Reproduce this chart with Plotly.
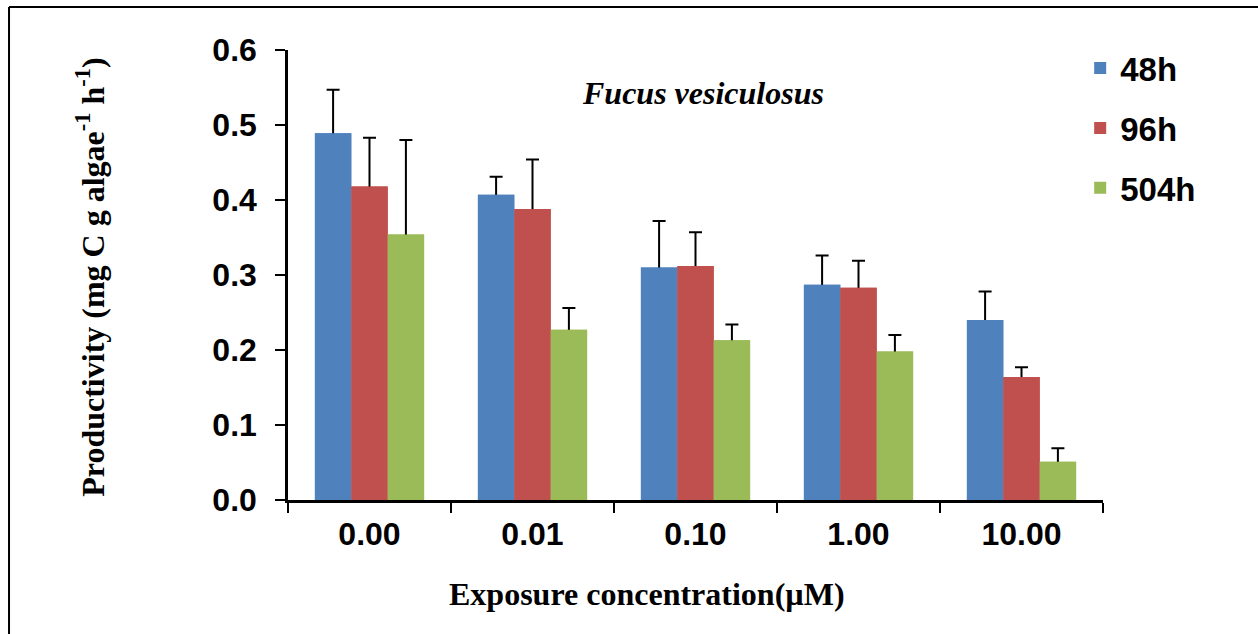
import plotly.graph_objects as go

categories = ['0.00', '0.01', '0.10', '1.00', '10.00']
series_names = ['48h', '96h', '504h']
v48 = [0.489, 0.407, 0.310, 0.287, 0.240]
e48 = [0.058, 0.024, 0.062, 0.039, 0.038]
v96 = [0.418, 0.388, 0.312, 0.283, 0.164]
e96 = [0.065, 0.066, 0.045, 0.036, 0.013]
v504 = [0.354, 0.227, 0.213, 0.198, 0.051]
e504 = [0.126, 0.029, 0.021, 0.022, 0.018]
colors = ['#4F81BD', '#C0504D', '#9BBB59']

values = [v48, v96, v504]
errors = [e48, e96, e504]

fig = go.Figure()
# bars with symmetric error bars (lower half hidden by overlay bars)
for i, (name, v, e, c) in enumerate(zip(series_names, values, errors, colors)):
    fig.add_trace(go.Bar(
        x=categories, y=v, name=name, marker=dict(color=c, line=dict(width=0)),
        offsetgroup=str(i), legendgroup=name, showlegend=True,
        error_y=dict(type='data', array=e, symmetric=True, color='black',
                     thickness=2, width=6.5),
    ))
# overlay bars hiding the lower half of the error bars
for i, (name, v, c) in enumerate(zip(series_names, values, colors)):
    fig.add_trace(go.Bar(
        x=categories, y=v, name=name, marker=dict(color=c, line=dict(width=0)),
        offsetgroup=str(i), legendgroup=name, showlegend=False, hoverinfo='skip',
    ))

sans = 'Arial, Liberation Sans'
serif = 'Times New Roman, Liberation Serif'

fig.update_layout(
    width=1258, height=634,
    margin=dict(l=288, r=155, t=50, b=134, autoexpand=False),
    paper_bgcolor='white', plot_bgcolor='white',
    barmode='group', bargap=0.33, bargroupgap=0,
    showlegend=True,
    legend=dict(x=0.972, y=1.022, xanchor='left', yanchor='top',
                font=dict(family=sans, size=33, color='black', weight='bold'),
                traceorder='grouped', tracegroupgap=14, bgcolor='rgba(0,0,0,0)'),
    xaxis=dict(
        type='category', showline=True, linecolor='black', linewidth=2.5,
        ticks='outside', tickson='boundaries', ticklen=10, tickwidth=2, tickcolor='black',
        tickfont=dict(family=sans, size=32, color='black', weight='bold'),
        ticklabelstandoff=4,
        showgrid=False, zeroline=False,
    ),
    yaxis=dict(
        range=[0, 0.6], dtick=0.1, tickformat='.1f',
        showline=True, linecolor='black', linewidth=2.5,
        ticks='outside', ticklen=10, tickwidth=2, tickcolor='black',
        tickfont=dict(family=sans, size=32, color='black', weight='bold'),
        ticklabelstandoff=12,
        showgrid=False, zeroline=False,
    ),
    annotations=[
        dict(text='<i><b>Fucus vesiculosus</b></i>', xref='paper', yref='paper',
             x=0.509, y=0.904, xanchor='center', yanchor='middle', showarrow=False,
             font=dict(family=serif, size=32, color='black')),
        dict(text='<b>Productivity (mg C g algae<sup>-1</sup> h<sup>-1</sup>)</b>', xref='paper', yref='paper',
             x=-0.243, y=0.496, xanchor='center', yanchor='middle', showarrow=False, textangle=-90,
             font=dict(family=serif, size=32, color='black')),
        dict(text='<b>Exposure concentration(µM)</b>', xref='paper', yref='paper',
             x=0.4405, y=-0.209, xanchor='center', yanchor='middle', showarrow=False,
             font=dict(family=serif, size=32, color='black')),
    ],
    shapes=[
        dict(type='line', xref='paper', yref='paper', x0=-0.3423, x1=1.2, y0=1.0956, y1=1.0956,
             line=dict(color='black', width=2)),
        dict(type='line', xref='paper', yref='paper', x0=-0.3423, x1=-0.3423, y0=1.0956, y1=-0.31,
             line=dict(color='black', width=2)),
    ],
)

fig.write_html('out.html')
